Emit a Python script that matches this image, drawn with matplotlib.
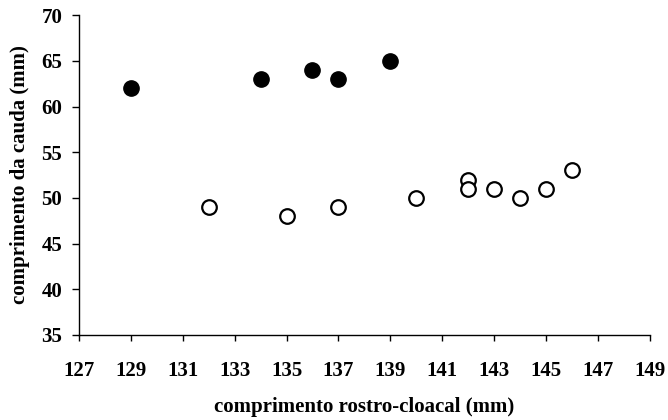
import matplotlib
matplotlib.use("Agg")
import matplotlib.pyplot as plt

# filled circles
filled_x = [129, 134, 136, 137, 139]
filled_y = [62, 63, 64, 63, 65]

# open circles
open_x = [132, 135, 137, 140, 142, 142, 143, 144, 145, 146]
open_y = [49, 48, 49, 50, 52, 51, 51, 50, 51, 53]

x_ticks = list(range(127, 150, 2))
y_ticks = list(range(35, 71, 5))

plt.rcParams['font.family'] = ['Liberation Serif', 'DejaVu Serif']

fig = plt.figure(figsize=(6.68, 4.2), dpi=100)
ax = fig.add_axes([0.118, 0.2024, 0.855, 0.7616])

ax.plot(filled_x, filled_y, 'o', color='black', markersize=11, linestyle='none')
ax.plot(open_x, open_y, 'o', markerfacecolor='white', markeredgecolor='black',
        markeredgewidth=1.6, markersize=10.5, linestyle='none')

ax.set_xlim(127, 149)
ax.set_ylim(35, 70)
ax.set_xticks(x_ticks)
ax.set_yticks(y_ticks)

for side in ['top', 'right']:
    ax.spines[side].set_visible(False)
for side in ['left', 'bottom']:
    ax.spines[side].set_linewidth(1.0)

ax.tick_params(axis='x', direction='out', length=4, width=1, pad=15, labelsize=15)
ax.tick_params(axis='y', direction='out', length=5, width=1, pad=7, labelsize=15)
for lbl in ax.get_xticklabels() + ax.get_yticklabels():
    lbl.set_fontweight('bold')

ax.set_xlabel('comprimento rostro-cloacal (mm)', fontsize=15, fontweight='bold', labelpad=11)
ax.set_ylabel('comprimento da cauda (mm)', fontsize=15, fontweight='bold', labelpad=8)

fig.savefig('out.png', dpi=100)
